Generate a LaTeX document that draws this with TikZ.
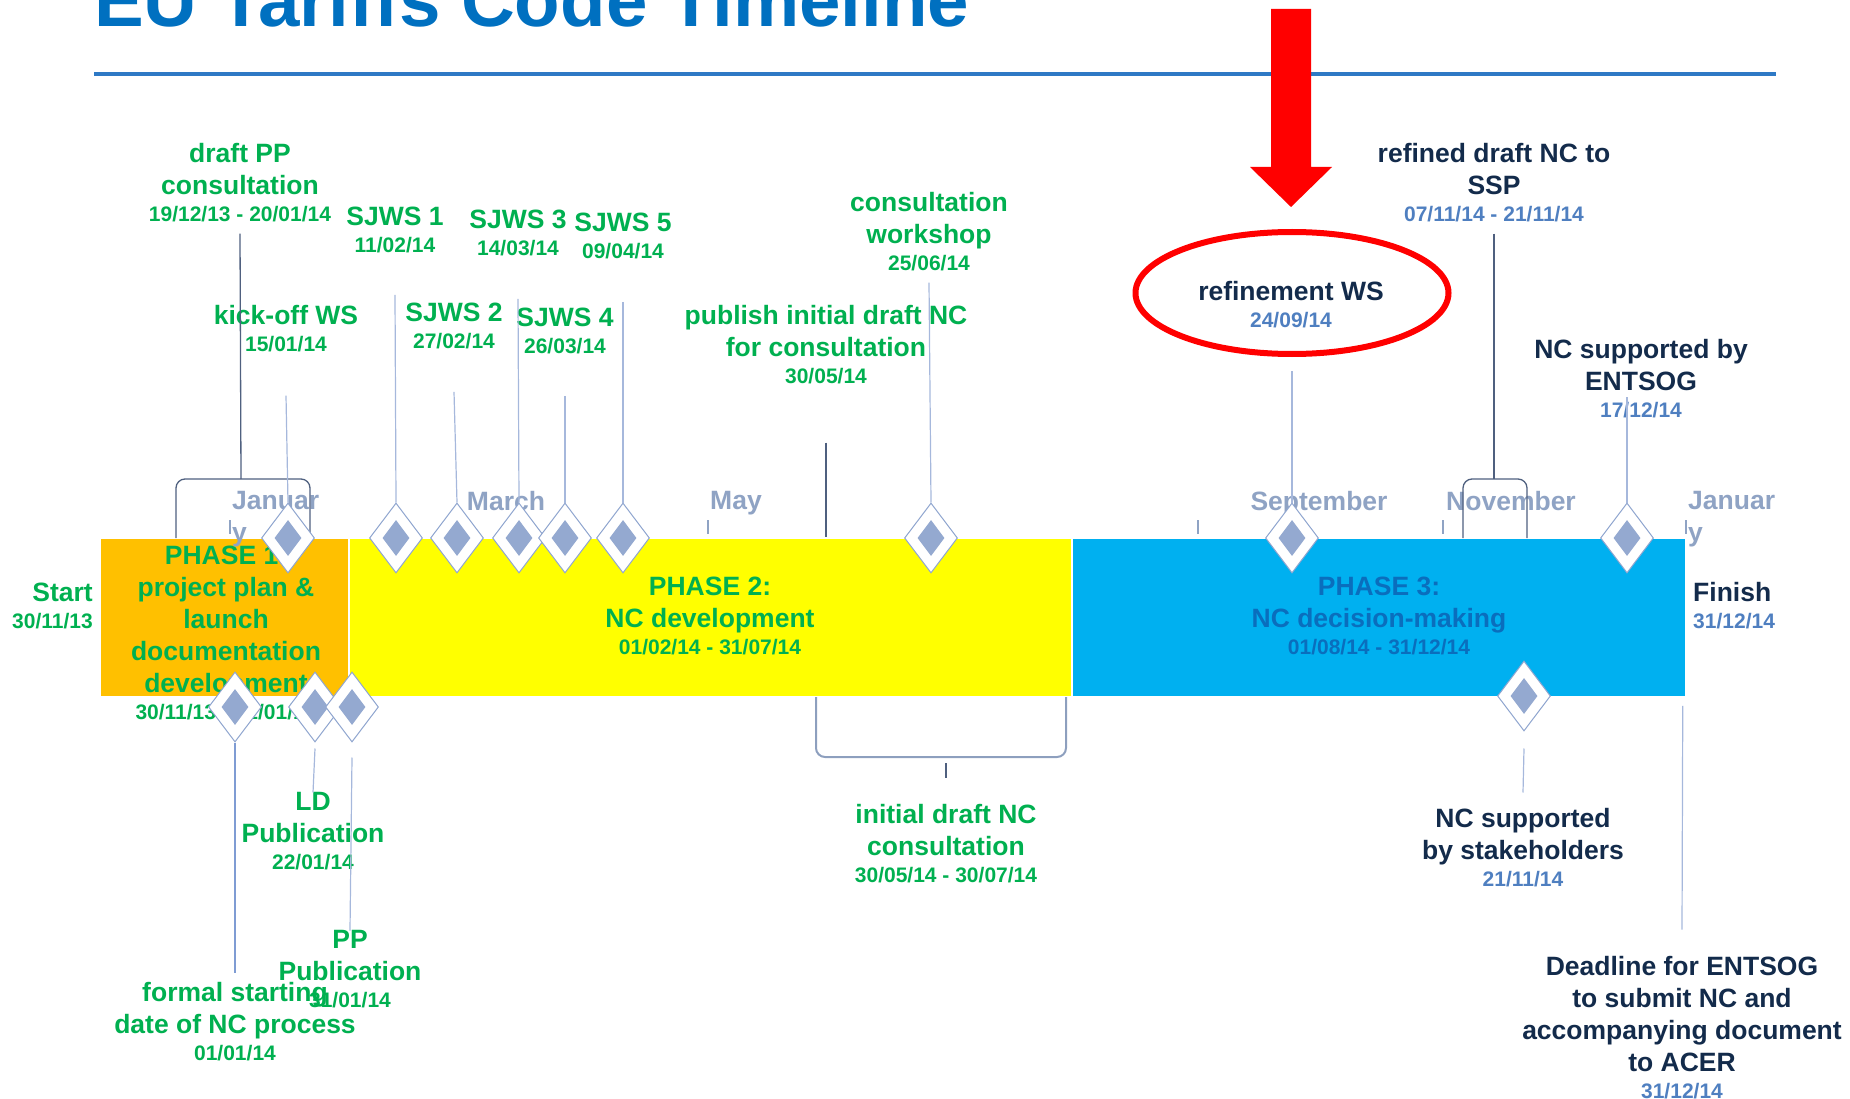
\documentclass[tikz,border=0pt]{standalone}
\usepackage{fontspec}
\setmainfont{Liberation Sans}
\usetikzlibrary{shapes.geometric}

\definecolor{tlblue}{HTML}{0070C0}
\definecolor{rulecol}{HTML}{2E79C5}
\definecolor{leaf}{HTML}{00B050}
\definecolor{navy}{HTML}{132B4B}
\definecolor{dateblue}{HTML}{4F7FC0}
\definecolor{month}{HTML}{8FA3C4}
\definecolor{gemfill}{HTML}{94A9D0}
\definecolor{gemline}{HTML}{8FA5CF}
\definecolor{leadlt}{HTML}{A6B8DC}
\definecolor{leadblue}{HTML}{7F9CD3}
\definecolor{leaddk}{HTML}{4F607F}
\definecolor{bracelt}{HTML}{8D9FBE}
\definecolor{phaseA}{HTML}{FFC000}
\definecolor{phaseB}{HTML}{FFFF00}
\definecolor{phaseC}{HTML}{00B0F0}
\definecolor{phaseCtext}{HTML}{0A6EBD}

\newcommand\dt{\fontsize{21}{26}\selectfont}
\newcommand\dd{\fontsize{21}{26}\selectfont\color{dateblue}}

\tikzset{
  lbl/.style={inner sep=0pt, align=center, font=\fontsize{26.5}{32}\selectfont\bfseries, text=leaf},
  dark lbl/.style={lbl, text=navy},
  mon/.style={lbl, text=month, align=left},
  bar/.style={inner sep=0pt, minimum height=159pt, draw=white, line width=1.5pt},
  gem/.style={diamond, inner sep=0pt, minimum width=53pt, minimum height=70pt, fill=white, draw=gemline, line width=1pt},
  gem core/.style={diamond, inner sep=0pt, minimum width=27pt, minimum height=36pt, fill=gemfill},
  lead/.style={draw=leadlt, line width=1.2pt},
  lead dark/.style={draw=leaddk, line width=1.3pt},
  brace/.style={draw=leaddk, line width=1.3pt, rounded corners=9pt},
  tickmark/.style={draw=month, line width=1.2pt},
}

\begin{document}
\begin{tikzpicture}[x=1pt, y=-1pt]
        \useasboundingbox (0,0) rectangle (1850,1099);

        \node[inner sep=0pt, anchor=base west, font=\fontsize{74.5}{80}\selectfont\bfseries, text=tlblue] (title) at (94,27) {EU Tariffs Code Timeline};
        \draw[rulecol, line width=3.5pt] (94,74) -- (1776,74);

        \node[bar, fill=phaseA, minimum width=249pt] (p1) at (224.5,617.5) {};
        \node[bar, fill=phaseB, minimum width=723pt] (p2) at (710.5,617.5) {};
        \node[bar, fill=phaseC, minimum width=614pt] (p3) at (1379,617.5) {};

        \node[lbl, anchor=north] (p1t) at (226,545.5) {PHASE 1:\\project plan \&\\launch\\documentation\\development\\[-5pt]\dt 30/11/13 - 31/01/14};
        \node[lbl, anchor=north] (p2t) at (710,576.5) {PHASE 2:\\NC development\\[-5pt]\dt 01/02/14 - 31/07/14};
        \node[lbl, anchor=north, text=phaseCtext] (p3t) at (1379,576.5) {PHASE 3:\\NC decision-making\\[-5pt]\dt 01/08/14 - 31/12/14};

        \node[mon, anchor=north west] (jan) at (232,491.5) {Januar\\y};
        \node[mon, anchor=north] (mar) at (506,491.5) {March};
        \node[mon, anchor=north] (may) at (736,491.5) {May};
        \node[mon, anchor=north] (sep) at (1319,491.5) {September};
        \node[mon, anchor=north] (nov) at (1511,491.5) {November};
        \node[mon, anchor=north west] (jan2) at (1688,491.5) {Januar\\y};
        \draw[tickmark] (230,520) -- (230,534);
        \draw[tickmark] (708,520) -- (708,534);
        \draw[tickmark] (1198,520) -- (1198,534);
        \draw[tickmark] (1443,520) -- (1443,534);
        \draw[tickmark] (1686,520) -- (1686,534);

        \draw[brace] (176,538) -- (176,479) -- (310,479) -- (310,538);
        \coordinate (jbr) at (241,479);
        \draw[brace] (1463,538) -- (1463,479) -- (1527,479) -- (1527,538);
        \coordinate (nbr) at (1494,479);
        \draw[brace, draw=bracelt, line width=2pt] (816,697) -- (816,757) -- (1066,757) -- (1066,697);
        \coordinate (ibr) at (946,757);

        \node[gem] (ko) at (288,538) {}; \node[gem core] (ko-c) at (ko) {};
        \node[gem] (s1) at (396,538) {}; \node[gem core] (s1-c) at (s1) {};
        \node[gem] (s2) at (457,538) {}; \node[gem core] (s2-c) at (s2) {};
        \node[gem] (s3) at (519,538) {}; \node[gem core] (s3-c) at (s3) {};
        \node[gem] (s4) at (565,538) {}; \node[gem core] (s4-c) at (s4) {};
        \node[gem] (s5) at (623,538) {}; \node[gem core] (s5-c) at (s5) {};
        \node[gem] (cw) at (931,538) {}; \node[gem core] (cw-c) at (cw) {};
        \node[gem] (rw) at (1292,538) {}; \node[gem core] (rw-c) at (rw) {};
        \node[gem] (ent) at (1627,538) {}; \node[gem core] (ent-c) at (ent) {};
        \node[gem] (fs) at (235,707) {}; \node[gem core] (fs-c) at (fs) {};
        \node[gem] (ld) at (315,707) {}; \node[gem core] (ld-c) at (ld) {};
        \node[gem] (pp) at (352,707) {}; \node[gem core] (pp-c) at (pp) {};
        \node[gem] (nsh) at (1524,696) {}; \node[gem core] (nsh-c) at (nsh) {};

        \node[ellipse, draw=red, line width=6pt, inner sep=0pt, minimum width=313pt, minimum height=122pt] (ring) at (1292,293) {};
        \fill[red] (1271,9) -- (1311,9) -- (1311,167) -- (1332,167) -- (1291,207) -- (1250,167) -- (1271,167) -- cycle;

        \node[lbl, anchor=north] (ppc-t) at (240,143.5) {draft PP\\consultation\\[-5pt]\dt 19/12/13 - 20/01/14};
        \node[lbl, anchor=north] (s1-t) at (395,206.5) {SJWS 1\\[-5pt]\dt 11/02/14};
        \node[lbl, anchor=north] (s3-t) at (518,209.5) {SJWS 3\\[-5pt]\dt 14/03/14};
        \node[lbl, anchor=north] (s5-t) at (623,212.5) {SJWS 5\\[-5pt]\dt 09/04/14};
        \node[lbl, anchor=north] (ko-t) at (286,305.5) {kick-off WS\\[-5pt]\dt 15/01/14};
        \node[lbl, anchor=north] (s2-t) at (454,302.5) {SJWS 2\\[-5pt]\dt 27/02/14};
        \node[lbl, anchor=north] (s4-t) at (565,307.5) {SJWS 4\\[-5pt]\dt 26/03/14};
        \node[lbl, anchor=north] (pub-t) at (826,305.5) {publish initial draft NC\\for consultation\\[-5pt]\dt 30/05/14};
        \node[lbl, anchor=north] (cw-t) at (929,192.5) {consultation\\workshop\\[-5pt]\dt 25/06/14};
        \node[dark lbl, anchor=north] (rw-t) at (1291,281.5) {refinement WS\\[-5pt]\dd 24/09/14};
        \node[dark lbl, anchor=north] (rdn-t) at (1494,143.5) {refined draft NC to\\SSP\\[-5pt]\dd 07/11/14 - 21/11/14};
        \node[dark lbl, anchor=north] (ent-t) at (1641,339.5) {NC supported by\\ENTSOG\\[-5pt]\dd 17/12/14};
        \node[lbl, anchor=north east, align=right] (start) at (93,582.5) {Start\\[-5pt]\dt 30/11/13};
        \node[dark lbl, anchor=north west, align=left] (finish) at (1693,582.5) {Finish\\[-5pt]\dd 31/12/14};
        \node[lbl, anchor=north] (idc-t) at (946,804.5) {initial draft NC\\consultation\\[-5pt]\dt 30/05/14 - 30/07/14};
        \node[dark lbl, anchor=north] (nsh-t) at (1523,808.5) {NC supported\\by stakeholders\\[-5pt]\dd 21/11/14};
        \node[dark lbl, anchor=north] (dl-t) at (1682,956.5) {Deadline for ENTSOG\\to submit NC and\\accompanying document\\to ACER\\[-5pt]\dd 31/12/14};
        \node[lbl, anchor=north] (ld-t) at (313,792.5) {LD\\Publication\\[-5pt]\dt 22/01/14};
        \node[lbl, anchor=north] (pp-t) at (350,930.5) {PP\\Publication\\[-5pt]\dt 31/01/14};
        \node[lbl, anchor=north] (fs-t) at (235,982.5) {formal starting\\date of NC process\\[-5pt]\dt 01/01/14};
        \coordinate (ent-top) at (1627,397);

        \draw[lead dark] ([yshift=-11pt]ppc-t.south) -- (jbr);
        \draw[lead] ([yshift=-43pt]ko-t.south) -- (ko.north);
        \draw[lead] ([yshift=-42pt]s1-t.south) -- (s1.north);
        \draw[lead] ([yshift=-43pt]s2-t.south) -- (s2.north);
        \draw[lead] ([yshift=-43pt]s3-t.south) -- (s3.north);
        \draw[lead] ([yshift=-42pt]s4-t.south) -- (s4.north);
        \draw[lead] ([yshift=-43pt]s5-t.south) -- (s5.north);
        \draw[lead dark] ([yshift=-58pt]pub-t.south) -- (pub-t.south |- p2.north);
        \draw[lead] ([yshift=-11pt]cw-t.south) -- (cw.north);
        \draw[lead] ([yshift=-14pt]ring.south) -- (rw.north);
        \draw[lead dark] ([yshift=-11pt]rdn-t.south) -- (nbr);
        \draw[lead] (ent-top) -- (ent.north);
        \draw[lead, draw=leadblue] (fs.south) -- ([yshift=9.5pt]fs-t.north);
        \draw[lead] ([yshift=-6pt]ld.south) -- (ld-t.north);
        \draw[lead] ([yshift=-15pt]pp.south) -- (pp-t.north);
        \draw[lead] ([yshift=-17pt]nsh.south) -- ([yshift=16pt]nsh-t.north);
        \draw[lead] ([xshift=-4pt,yshift=-8pt]p3.south east) -- ([yshift=27pt]dl-t.north);
        \draw[lead dark] ([yshift=-6pt]ibr) -- ([yshift=27pt]idc-t.north);
    \end{tikzpicture}
\end{document}
